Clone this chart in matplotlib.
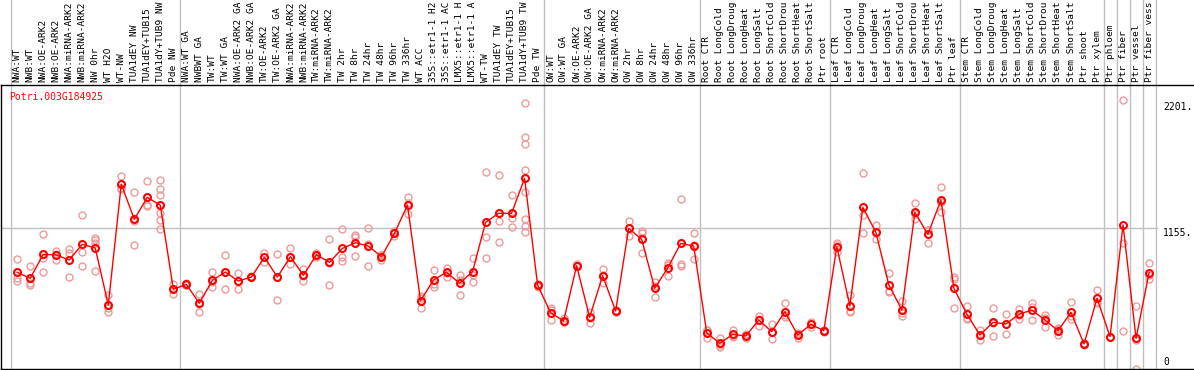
import matplotlib
matplotlib.use("Agg")
import matplotlib.pyplot as plt
import matplotlib.transforms as mtransforms

gene = "Potri.003G184925"

# column labels as far as they show in the header
labels = [
    "NWA:WT", "NWB:WT", "NWA:OE-ARK2", "NWB:OE-ARK2", "NWA:miRNA-ARK2", "NWB:miRNA-ARK2",
    "NW 0hr", "WT H2O", "WT-NW", "TUA1dEY NW", "TUA1dEY+TUB15", "TUA1dY+TUB9 NW", "Pde NW",
    "NWA:WT GA", "NWBWT GA", "TW:WT", "TW:WT GA", "NWA:OE-ARK2 GA", "NWB:OE-ARK2 GA",
    "TW:OE-ARK2", "TW:OE-ARK2 GA", "NWA:miRNA-ARK2", "NWB:miRNA-ARK2", "TW:miRNA-ARK2",
    "TW:miRNA-ARK2", "TW 2hr", "TW 8hr", "TW 24hr", "TW 48hr", "TW 96hr", "TW 336hr", "WT ACC",
    "35S::etr1-1 H2", "35S::etr1-1 AC", "LMX5::etr1-1 H", "LMX5::etr1-1 A", "WT-TW",
    "TUA1dEY TW", "TUA1dEY+TUB15", "TUA1dY+TUB9 TW", "Pde TW",
    "OW:WT", "OW:WT GA", "OW:OE-ARK2", "OW:OE-ARK2 GA", "OW:miRNA-ARK2", "OW:miRNA-ARK2",
    "OW 2hr", "OW 8hr", "OW 24hr", "OW 48hr", "OW 96hr", "OW 336hr",
    "Root CTR", "Root LongCold", "Root LongDroug", "Root LongHeat", "Root LongSalt",
    "Root ShortCold", "Root ShortDrou", "Root ShortHeat", "Root ShortSalt", "Ptr root",
    "Leaf CTR", "Leaf LongCold", "Leaf LongDroug", "Leaf LongHeat", "Leaf LongSalt",
    "Leaf ShortCold", "Leaf ShortDrou", "Leaf ShortHeat", "Leaf ShortSalt", "Ptr leaf",
    "Stem CTR", "Stem LongCold", "Stem LongDroug", "Stem LongHeat", "Stem LongSalt",
    "Stem ShortCold", "Stem ShortDrou", "Stem ShortHeat", "Stem ShortSalt",
    "Ptr shoot", "Ptr xylem", "Ptr phloem", "Ptr fiber", "Ptr vessel", "Ptr fiber vess",
]

means = [
    792, 743, 939, 934, 893, 1021, 991, 524, 1513, 1226, 1406, 1341, 653,
    693, 538, 726, 794, 721, 753, 915, 753, 920, 767, 936, 874, 988, 1034, 1007,
    920, 1111, 1343, 559, 729, 792, 702, 797, 1201, 1275, 1275, 1562, 688,
    461, 393, 846, 423, 764, 475, 1152, 1062, 661, 827, 1029, 1007,
    297, 210, 284, 270, 401, 306, 469, 278, 366, 314,
    1002, 516, 1324, 1119, 688, 483, 1283, 1103, 1384, 661,
    448, 278, 382, 369, 448, 483, 401, 314, 464, 205, 579,
    265, 1180, 251, 789,
]

reps = [
    [898, 743, 721], [844, 702, 688], [1106, 912, 794], [969, 893, 940],
    [980, 947, 751], [1259, 956, 844], [1075, 1056, 1034, 803], [606, 464, 500],
    [1581, 1485, 1473], [1450, 1016, 1212], [1540, 1341, 1337],
    [1548, 1473, 1423, 1275, 1221, 1144], [697, 612, 653],
    [702, 688, 690], [614, 464, 536], [794, 669, 715], [934, 653, 794],
    [786, 658, 720], [758, 750, 755], [953, 874, 918], [939, 565, 755],
    [988, 858, 914], [819, 721, 760], [953, 936, 920], [1065, 688, 869],
    [1147, 920, 882], [1097, 926, 1080], [1155, 1023, 844], [893, 930, 937],
    [1089, 1130, 1111], [1406, 1267, 1356], [600, 497, 580], [811, 697, 674],
    [830, 756, 790], [770, 606, 730], [906, 715, 770], [1611, 1084, 906],
    [1589, 1212, 1038], [1423, 1239, 1163],
    [2176, 1900, 1840, 1630, 1452, 1229, 1171, 1119], [700, 670, 690],
    [497, 401, 486], [415, 382, 383], [858, 840, 840], [469, 379, 421],
    [816, 707, 769], [478, 464, 483], [1212, 1089, 1155], [1111, 947, 1128],
    [715, 587, 681], [866, 764, 851], [1392, 858, 846], [1111, 898, 1012],
    [319, 251, 321], [251, 183, 197], [319, 260, 273], [284, 251, 275],
    [437, 355, 411], [369, 246, 303], [538, 423, 446], [251, 290, 293],
    [382, 344, 372], [319, 306, 317],
    [1016, 956, 1034], [606, 478, 464], [1603, 1261, 1111], [1179, 1062, 1117],
    [789, 633, 642], [559, 434, 456], [1357, 1226, 1266], [1138, 1029, 1142],
    [1493, 1289, 1370], [751, 497, 735],
    [516, 407, 421], [319, 237, 278], [497, 273, 376], [450, 290, 367],
    [491, 409, 444], [538, 401, 510], [442, 341, 420], [328, 278, 336],
    [549, 409, 434], [215, 197, 203], [647, 538, 552],
    [265], [2201, 1029, 311], [516, 0, 237], [866, 734, 767],
]

group_edges = [0, 13, 41, 53, 63, 73, 84, 85, 86, 87, 88]
y_ticks = [2201, 1155, 0]
y_tick_text = ["2201.", "1155.", "0"]

W, H = 1194, 370
fig = plt.figure(figsize=(W / 100, H / 100), dpi=100)
top_px = 85
ax = fig.add_axes([1 / W, 1 / H, (W - 1) / W, (H - 1 - top_px) / H])

# pixel -> column coordinates: center of column i at 17.2 + 13.01*i
colw = 13.01
ax.set_xlim((1 - 17.2) / colw, (W - 17.2) / colw)
ymax = 2326
ax.set_ylim(0, ymax)
ax.set_xticks([])
ax.set_yticks([])
for s in ["left", "top", "bottom"]:
    ax.spines[s].set_linewidth(1)
    ax.spines[s].set_color("black")
ax.spines["right"].set_visible(False)

grey = "#c0c0c0"
ax_h = H - 1 - top_px
for b in group_edges:
    ax.axvline(b - 0.5, ymin=0, ymax=(H - 1) / ax_h, color=grey, lw=1,
               clip_on=False, zorder=0)
ax.axhline(1155, xmin=0, xmax=(1157 - 1) / (W - 1), color=grey, lw=1, zorder=0)

mono = "DejaVu Sans Mono"
trans = mtransforms.blended_transform_factory(ax.transData, ax.transAxes)
for i, lab in enumerate(labels):
    ax.text(i, 1 + 3 / ax_h, lab, rotation=90, ha="center", va="bottom",
            fontsize=6.8, family=mono, transform=trans, clip_on=False)

# replicates
for i, vals in enumerate(reps):
    ax.plot([i] * len(vals), vals, linestyle="none", marker="o", markersize=5,
            markerfacecolor="none", markeredgecolor="#ec9a9a", markeredgewidth=1,
            zorder=2, clip_on=False)

xs = list(range(len(means)))
ax.plot(xs, means, color="red", lw=1, marker="o", markersize=5,
        markerfacecolor="none", markeredgecolor="red", markeredgewidth=1.5, zorder=3)

ax.text((9 - 17.2) / colw, 2230, gene, color="red", fontsize=7, family=mono,
        ha="left", va="center")

ytrans = mtransforms.blended_transform_factory(ax.transAxes, ax.transData)
for v, t, yc in zip(y_ticks, y_tick_text, [2143, 1116, 60]):
    ax.text((1163 - 1) / (W - 1), yc, t, fontsize=7, family=mono,
            ha="left", va="center", transform=ytrans, clip_on=False)

fig.savefig("out.png", dpi=100)
